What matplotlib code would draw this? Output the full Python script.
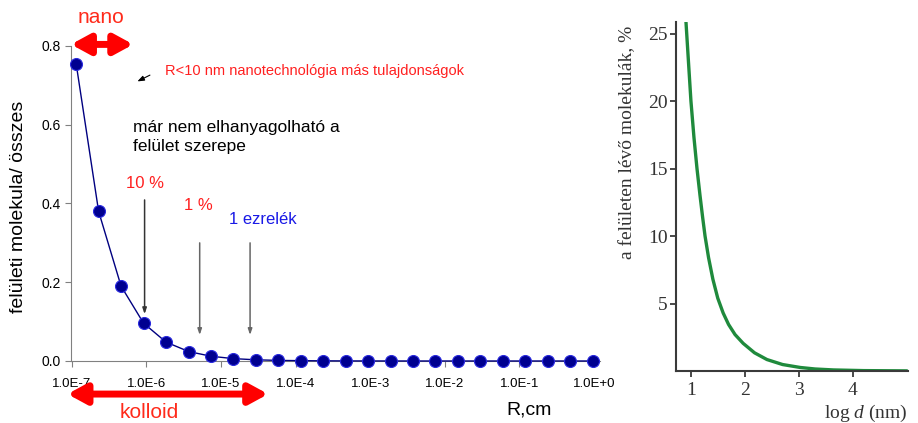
import matplotlib
matplotlib.use("Agg")
import matplotlib.pyplot as plt

# bal oldali grafikon: felületi molekulák aránya a sugár függvényében
R_cm = [1.15e-7, 2.3e-7, 4.6e-7, 9.2e-7, 1.84e-6, 3.7e-6, 7.4e-6, 1.47e-5,
        2.95e-5, 5.9e-5, 1.18e-4, 2.36e-4, 4.7e-4, 9.4e-4, 1.89e-3, 3.8e-3,
        7.5e-3, 1.5e-2, 3.0e-2, 6.0e-2, 1.2e-1, 2.4e-1, 4.8e-1, 9.6e-1]
frac = [0.755, 0.38, 0.19, 0.096, 0.048, 0.024, 0.012, 0.006, 0.003, 0.0015,
        0.0008, 0.0004, 0.0002, 0.0001, 0.00005, 0.0, 0.0, 0.0, 0.0, 0.0,
        0.0, 0.0, 0.0, 0.0]
x_ticks = [1e-7, 1e-6, 1e-5, 1e-4, 1e-3, 1e-2, 1e-1, 1e0]
x_tick_labels = ["1.0E-7", "1.0E-6", "1.0E-5", "1.0E-4", "1.0E-3",
                 "1.0E-2", "1.0E-1", "1.0E+0"]
y_ticks = [0.0, 0.2, 0.4, 0.6, 0.8]

# jobb oldali grafikon
log_d = [0.91, 0.96, 1.004, 1.06, 1.116, 1.172, 1.22, 1.265, 1.33, 1.41,
         1.5, 1.6, 1.7, 1.82, 1.97, 2.18, 2.41, 2.7, 3.03, 3.3, 3.64, 4.2, 5.0]
surf_pct = [26.0, 22.8, 20.0, 17.3, 15.0, 13.0, 11.4, 10.0, 8.4, 6.8,
            5.4, 4.3, 3.45, 2.7, 2.05, 1.35, 0.85, 0.48, 0.26, 0.15, 0.08,
            0.03, 0.01]
r_xticks = [1, 2, 3, 4]
r_yticks = [5, 10, 15, 20, 25]

plt.rcParams["font.family"] = ["Liberation Sans", "DejaVu Sans"]
plt.rcParams["mathtext.fontset"] = "custom"
plt.rcParams["mathtext.it"] = "Liberation Serif:italic"
plt.rcParams["mathtext.rm"] = "Liberation Serif"

fig = plt.figure(figsize=(9.18, 4.23), dpi=100)

# ---- left panel ----
ax = fig.add_axes([0.0773, 0.1466, 0.5763, 0.7447])
ax.plot(R_cm, frac, color="#000080", lw=1, marker="o", ms=8.6,
        mfc="#000090", mec="#2a2ae0", mew=0.8, clip_on=False, zorder=3)
ax.set_xscale("log")
ax.set_xlim(0.98e-7, 1.2)
ax.set_ylim(0, 0.8)
ax.set_xticks(x_ticks)
ax.set_xticklabels(x_tick_labels, fontsize=9.5)
ax.minorticks_off()
ax.set_yticks(y_ticks)
ax.set_yticklabels(["0.0", "0.2", "0.4", "0.6", "0.8"], fontsize=10)
for s in ["top", "right"]:
    ax.spines[s].set_visible(False)
for s in ["left", "bottom"]:
    ax.spines[s].set_color("#808080")
ax.tick_params(axis="both", colors="#808080", length=4, labelcolor="black")
ax.tick_params(axis="x", pad=8)
ax.set_ylabel("felületi molekula/ összes", fontsize=14)
ax.yaxis.set_label_coords(-0.083, 0.49)

ax.text(0.865, -0.156, "R,cm", transform=ax.transAxes, fontsize=14,
        ha="center", va="center")

# annotations
red = "#ff2a1a"
ax.text(2.5e-7, 1.089, "nano", transform=ax.get_xaxis_transform(),
        color=red, fontsize=15, ha="center", va="center")
ax.annotate("", xy=(0.98e-7, 1.005), xytext=(6.7e-7, 1.005),
            xycoords=ax.get_xaxis_transform(), annotation_clip=False,
            arrowprops=dict(arrowstyle="<|-|>,head_length=0.55,head_width=0.3",
                            mutation_scale=20, lw=5, color="#ff0000",
                            shrinkA=0, shrinkB=0))
ax.text(1.1e-6, -0.165, "kolloid", transform=ax.get_xaxis_transform(),
        color=red, fontsize=15, ha="center", va="center")
ax.annotate("", xy=(0.88e-7, -0.105), xytext=(4.3e-5, -0.105),
            xycoords=ax.get_xaxis_transform(), annotation_clip=False,
            arrowprops=dict(arrowstyle="<|-|>,head_length=0.55,head_width=0.3",
                            mutation_scale=20, lw=5, color="#ff0000",
                            shrinkA=0, shrinkB=0))

ax.text(1.76e-6, 0.7365, "R<10 nm nanotechnológia más tulajdonságok",
        color="#ff2020", fontsize=10.5, ha="left", va="center")
ax.annotate("", xy=(7.6e-7, 0.71), xytext=(1.12e-6, 0.726),
            arrowprops=dict(arrowstyle="-|>,head_length=0.4,head_width=0.15",
                            lw=0.8, color="black", shrinkA=0, shrinkB=0))

ax.text(6.56e-7, 0.569, "már nem elhanyagolható a\nfelület szerepe",
        fontsize=12.5, ha="left", va="center", linespacing=1.35)

ax.text(9.5e-7, 0.4495, "10 %", color="#ff2020", fontsize=12,
        ha="center", va="center")
ax.text(5.0e-6, 0.396, "1 %", color="#ff2020", fontsize=12,
        ha="center", va="center")
ax.text(3.6e-5, 0.36, "1 ezrelék", color="#1a1ae6", fontsize=12,
        ha="center", va="center")

for xa, y0, y1, c in [(9.5e-7, 0.409, 0.119, "#333333"),
                      (5.2e-6, 0.30, 0.066, "#666666"),
                      (2.46e-5, 0.30, 0.066, "#666666")]:
    ax.annotate("", xy=(xa, y1), xytext=(xa, y0),
                arrowprops=dict(arrowstyle="-|>,head_length=0.35,head_width=0.12",
                                lw=1.1, color=c, shrinkA=0, shrinkB=0))

# ---- right panel ----
serif = ["Liberation Serif", "DejaVu Serif"]
ax2 = fig.add_axes([0.7364, 0.1229, 0.2527, 0.825])
ax2.plot(log_d, surf_pct, color="#1f8a3c", lw=2.4, solid_capstyle="round",
         solid_joinstyle="round")
ax2.set_xlim(0.728, 5.02)
ax2.set_ylim(0, 25.85)
ax2.set_xticks(r_xticks)
ax2.set_yticks(r_yticks)
ax2.set_xticklabels([str(v) for v in r_xticks], family=serif, fontsize=14)
ax2.set_yticklabels([str(v) for v in r_yticks], family=serif, fontsize=14)
for s in ["top", "right"]:
    ax2.spines[s].set_visible(False)
for s in ["left", "bottom"]:
    ax2.spines[s].set_color("#3a3a3a")
    ax2.spines[s].set_linewidth(1.5)
ax2.tick_params(axis="both", colors="#3a3a3a", length=4, width=1.3,
                labelcolor="#333333", pad=2)
ax2.tick_params(axis="x", pad=4)
ax2.set_ylabel("a felületen lévő molekulák, %", family=serif, fontsize=14,
               color="#333333")
ax2.yaxis.set_label_coords(-0.17, 0.655)
ax2.text(1.0, -0.122, r"log $d$ (nm)", transform=ax2.transAxes,
         family=serif, fontsize=14, color="#333333", ha="right", va="center")

fig.savefig("out.png", dpi=100)
